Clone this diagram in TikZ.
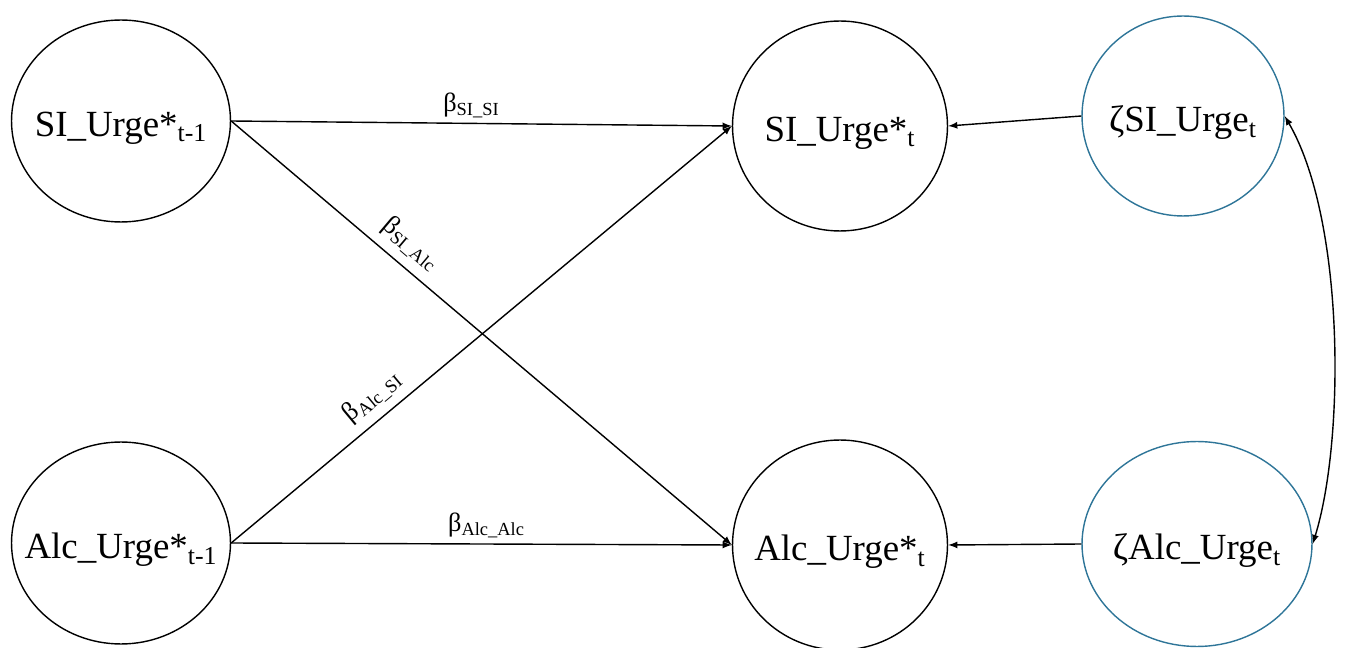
\documentclass[tikz,border=0pt]{standalone}
\usepackage{fontspec}
\setmainfont{Liberation Serif}
\usetikzlibrary{shapes.geometric}
\definecolor{zetablue}{RGB}{46,117,152}
\begin{document}
\begin{tikzpicture}[
		x=0.02cm, y=-0.02cm,
		latent/.style={ellipse, draw, thick, inner sep=0pt, label={[font=\fontsize{21}{24}\selectfont, yshift=-4pt]center:#1}},
		every path/.style={thick},
		path/.style={->, >=latex},
		coef/.style={font=\fontsize{15}{17}\selectfont, inner sep=3pt},
		]
		\useasboundingbox (0,0) rectangle (1350,648);
		\node[latent={SI\_Urge*\textsubscript{t-1}}, minimum width=4.38cm, minimum height=4.04cm] (si1) at (121,121) {};
		\node[latent={Alc\_Urge*\textsubscript{t-1}}, minimum width=4.38cm, minimum height=4.04cm] (alc1) at (121,543) {};
		\node[latent={SI\_Urge*\textsubscript{t}}, minimum width=4.3cm, minimum height=4.2cm] (sit) at (840,126) {};
		\node[latent={Alc\_Urge*\textsubscript{t}}, minimum width=4.3cm, minimum height=4.2cm] (alct) at (840,545) {};
		\node[latent={ζSI\_Urge\textsubscript{t}}, draw=zetablue, minimum width=4.04cm, minimum height=4.0cm] (zsi) at (1183,116) {};
		\node[latent={ζAlc\_Urge\textsubscript{t}}, draw=zetablue, minimum width=4.6cm, minimum height=4.1cm] (zalc) at (1197,544) {};
		\draw[path] (si1.east) -- node[coef, above, pos=0.48] {β\textsubscript{SI\_SI}} (sit.west);
		\draw[path] (si1.east) -- node[coef, above, sloped, pos=0.33, yshift=2pt] {β\textsubscript{SI\_Alc}} (alct.west);
		\draw[path] (alc1.east) -- node[coef, above, sloped, pos=0.31, yshift=2pt] {β\textsubscript{Alc\_SI}} (sit.west);
		\draw[path] (alc1.east) -- node[coef, above, pos=0.51] {β\textsubscript{Alc\_Alc}} (alct.west);
		\draw[path] (zsi.west) -- (sit.east);
		\draw[path] (zalc.west) -- (alct.east);
		\draw[path, <->] (zsi.east) .. controls (1345,220) and (1345,440) .. (zalc.east);
	\end{tikzpicture}
\end{document}
